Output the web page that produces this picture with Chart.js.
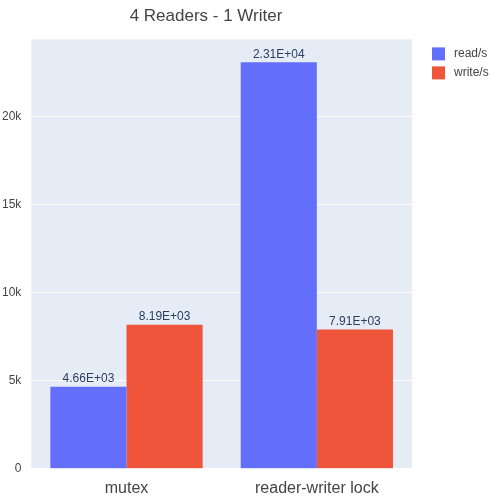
<!DOCTYPE html>
<html>
<head>
<meta charset="utf-8">
<script src="https://cdn.jsdelivr.net/npm/chart.js@4"></script>
<style>
  html, body { margin: 0; padding: 0; background: #fff; }
  #wrap { width: 500px; height: 500px; }
</style>
</head>
<body>
<div id="wrap"><canvas id="c"></canvas></div>
<script>
var categories = ["mutex", "reader-writer lock"];
var readValues = [4660, 23100];
var writeValues = [8190, 7910];
var yTicks = [0, 5000, 10000, 15000, 20000];

var FONT = '"Liberation Sans", Arial, sans-serif';

function sci(v) {
    var e = Math.floor(Math.log10(v));
    var m = (v / Math.pow(10, e)).toFixed(2);
    return m + "E" + (e >= 0 ? "+" : "-") + String(Math.abs(e)).padStart(2, "0");
}

var bgPlugin = {
    id: 'plotBg',
    beforeDraw: function (chart) {
        var a = chart.chartArea, ctx = chart.ctx;
        ctx.save();
        ctx.fillStyle = '#E5ECF6';
        ctx.fillRect(a.left, a.top, a.right - a.left, a.bottom - a.top);
        ctx.restore();
    }
};

var labelPlugin = {
    id: 'barLabels',
    afterDatasetsDraw: function (chart) {
        var ctx = chart.ctx, a = chart.chartArea;
        ctx.save();
        ctx.font = '12px ' + FONT;
        ctx.fillStyle = '#2a3f5f';
        ctx.textAlign = 'center';
        ctx.textBaseline = 'bottom';
        chart.data.datasets.forEach(function (ds, i) {
            chart.getDatasetMeta(i).data.forEach(function (bar, j) {
                ctx.fillText(sci(ds.data[j]), bar.x, bar.y - 2);
            });
        });
        // legend
        ctx.textAlign = 'left';
        ctx.textBaseline = 'middle';
        ctx.fillStyle = '#444';
        chart.data.datasets.forEach(function (ds, i) {
            var y = a.top + 14 + i * 19;
            ctx.fillStyle = ds.backgroundColor;
            ctx.fillRect(a.right + 20, y - 6, 13, 13);
            ctx.fillStyle = '#444';
            ctx.fillText(ds.label, a.right + 42, y);
        });
        ctx.restore();
    }
};

new Chart(document.getElementById('c'), {
    type: 'bar',
    data: {
        labels: categories,
        datasets: [
            { label: 'read/s', data: readValues, backgroundColor: '#636EFA' },
            { label: 'write/s', data: writeValues, backgroundColor: '#EF553B' }
        ]
    },
    options: {
        responsive: true,
        maintainAspectRatio: false,
        animation: false,
        layout: { padding: { top: 0, right: 88, bottom: 0, left: 0 } },
        datasets: { bar: { categoryPercentage: 0.8, barPercentage: 1.0 } },
        plugins: {
            title: {
                display: true,
                text: '4 Readers - 1 Writer',
                color: '#444',
                font: { family: FONT, size: 17, weight: 'normal' },
                padding: { top: 6, bottom: 13 }
            },
            legend: { display: false },
            tooltip: { enabled: false }
        },
        scales: {
            x: {
                grid: { display: false },
                border: { display: false },
                ticks: { color: '#444', padding: 2, font: { family: FONT, size: 16 } }
            },
            y: {
                min: 0,
                max: 24400,
                afterBuildTicks: function (axis) {
                    axis.ticks = yTicks.map(function (v) { return { value: v }; });
                },
                grid: { color: '#fff', lineWidth: 1 },
                border: { display: false },
                ticks: {
                    color: '#444',
                    padding: 2,
                    font: { family: FONT, size: 12 },
                    callback: function (v) { return v === 0 ? '0' : (v / 1000) + 'k'; }
                }
            }
        }
    },
    plugins: [bgPlugin, labelPlugin]
});
</script>
</body>
</html>
